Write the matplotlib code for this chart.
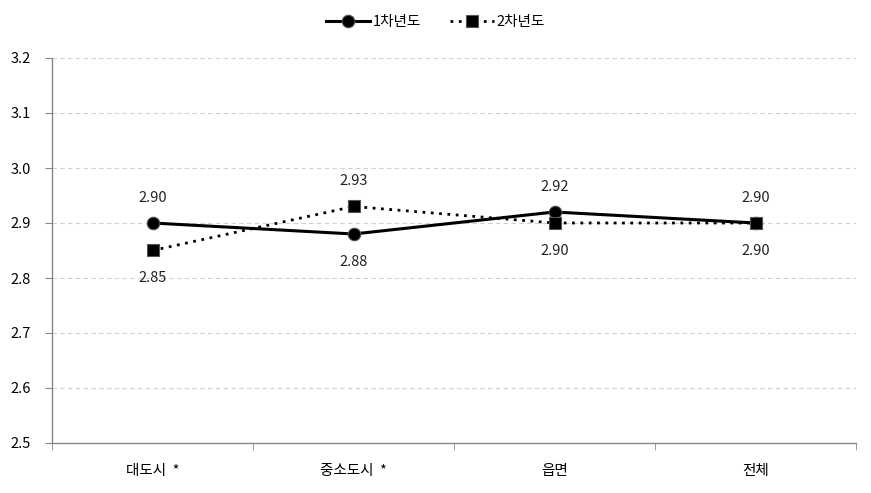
import matplotlib.pyplot as plt
from matplotlib.ticker import FixedLocator

plt.rcParams['font.family'] = ['Noto Sans CJK KR', 'DejaVu Sans']

categories = ["대도시  *", "중소도시  *", "읍면", "전체"]
year1 = [2.90, 2.88, 2.92, 2.90]
year2 = [2.85, 2.93, 2.90, 2.90]
year1_pos = ["above", "below", "above", "above"]
year2_pos = ["below", "above", "below", "below"]

fig = plt.figure(figsize=(8.71, 4.93), dpi=100)
ax = fig.add_axes([52 / 871, 1 - 443 / 493, 804 / 871, 385 / 493])

x = list(range(len(categories)))
ax.plot(x, year1, color="black", linewidth=2.2, marker="o", markersize=9,
        markerfacecolor="black", markeredgecolor="#555555", markeredgewidth=0.8,
        label="1차년도", zorder=3)
ax.plot(x, year2, color="black", linewidth=2, linestyle=(0, (1, 2)), marker="s",
        markersize=8.5, markerfacecolor="black", markeredgecolor="#555555",
        markeredgewidth=0.8, label="2차년도", zorder=3)

for series, places in [(year1, year1_pos), (year2, year2_pos)]:
    for xi, v, p in zip(x, series, places):
        dy = 18 if p == "above" else -20
        ax.annotate(f"{v:.2f}", (xi, v), xytext=(0, dy), textcoords="offset points",
                    ha="center", va="center", fontsize=10.5, color="#222222")

ax.set_xlim(-0.5, len(categories) - 0.5)
ax.set_ylim(2.5, 3.2)
ax.set_yticks([2.5, 2.6, 2.7, 2.8, 2.9, 3.0, 3.1, 3.2])
ax.set_yticklabels([f"{t:.1f}" for t in ax.get_yticks()])
ax.set_xticks(x)
ax.set_xticklabels(categories)
ax.xaxis.set_minor_locator(FixedLocator([i - 0.5 for i in range(len(categories) + 1)]))
ax.tick_params(axis="x", which="major", length=0, pad=15, labelsize=10.5)
ax.tick_params(axis="x", which="minor", length=5, color="#888888")
ax.tick_params(axis="y", length=5, color="#888888", labelsize=10.5, pad=10)

ax.grid(axis="y", color="#d0d0d0", linestyle=(0, (4, 3)), linewidth=0.8)
ax.set_axisbelow(True)
for s in ["top", "right"]:
    ax.spines[s].set_visible(False)
for s in ["left", "bottom"]:
    ax.spines[s].set_color("#888888")
    ax.spines[s].set_linewidth(1)

fig.legend(loc="center", bbox_to_anchor=(0.5, 1 - 22 / 493), ncol=2, frameon=False,
           fontsize=10.5, handlelength=3, columnspacing=2, handletextpad=0.2)

fig.savefig("out.png", dpi=100)
